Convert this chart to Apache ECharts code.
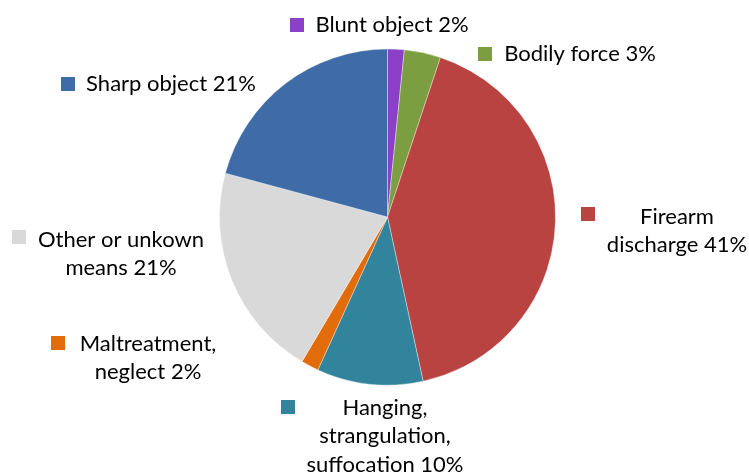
<!DOCTYPE html>
<html>
<head>
<meta charset="utf-8">
<script src="https://cdn.jsdelivr.net/npm/echarts@6/dist/echarts.min.js"></script>
<style>
  html, body { margin: 0; padding: 0; background: #fff; }
  #main { width: 749px; height: 475px; }
</style>
</head>
<body>
<div id="main"></div>
<script>
// slices, clockwise from 12 o'clock
var names = ['Blunt object', 'Bodily force', 'Firearm discharge',
  'Hanging, strangulation, suffocation', 'Maltreatment, neglect',
  'Other or unkown means', 'Sharp object'];
var values = [1.6, 3.5, 41.5, 10.2, 1.7, 20.7, 20.8];
var shownPct = [2, 3, 41, 10, 2, 21, 21];
var labelLines = [
  ['Blunt object'],
  ['Bodily force'],
  ['Firearm', 'discharge'],
  ['Hanging,', 'strangulation,', 'suffocation'],
  ['Maltreatment,', 'neglect'],
  ['Other or unkown', 'means'],
  ['Sharp object']
];
var colors = ['#8c3fc7', '#7b9f40', '#b94341', '#31849b', '#e36c0a', '#d9d9d9', '#3f6ba6'];

// label block centres and marker corners (layout only)
var textSpots = [[392, 25], [580, 54], [677, 231], [385, 436], [148, 358], [121, 254], [171, 84]];
var markSpots = [[290, 18], [478, 47], [581, 207], [281, 400], [51, 336], [12, 230], [61, 77]];

var myChart = echarts.init(document.getElementById('main'));

var option = {
  animation: false,
  graphic: markSpots.map(function (p, i) {
    return {
      type: 'rect',
      left: p[0],
      top: p[1],
      shape: { width: 14, height: 14 },
      style: { fill: colors[i] }
    };
  }),
  series: [
    {
      type: 'pie',
      center: [387.5, 217],
      radius: 168,
      startAngle: 90,
      clockwise: true,
      color: colors,
      itemStyle: { borderColor: 'rgba(255,255,255,0.6)', borderWidth: 0.6 },
      label: {
        show: true,
        position: 'outside',
        overflow: 'none',
        fontFamily: 'Lato',
        fontSize: 22,
        lineHeight: 28.5,
        color: '#000',
        align: 'center',
        formatter: function (p) {
          var lines = labelLines[p.dataIndex].slice();
          lines[lines.length - 1] += ' ' + shownPct[p.dataIndex] + '%';
          return lines.join('\n');
        }
      },
      labelLine: { show: false },
      labelLayout: function (p) {
        var s = textSpots[p.dataIndex];
        return { x: s[0], y: s[1], align: 'center', verticalAlign: 'middle', width: 300 };
      },
      data: names.map(function (n, i) {
        return { name: n, value: values[i] };
      })
    }
  ]
};
myChart.setOption(option);
</script>
</body>
</html>
